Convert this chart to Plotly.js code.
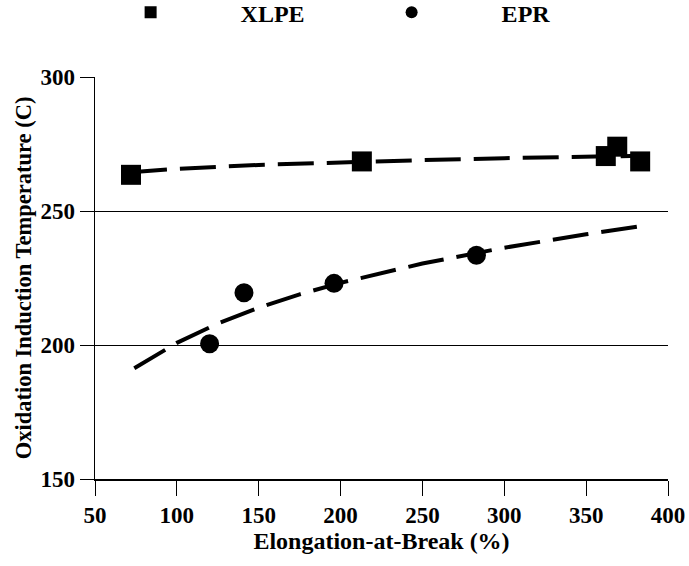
<!DOCTYPE html>
<html>
<head>
<meta charset="utf-8">
<script src="https://cdn.plot.ly/plotly-3.0.1.min.js"></script>
<style>html,body{margin:0;padding:0;background:#fff;}#chart{width:689px;height:566px;}</style>
</head>
<body>
<div id="chart"></div>
<script>
// XLPE measurements
const xlpeX = [72, 213, 362, 369, 383];
const xlpeY = [263.5, 268.5, 270.5, 274, 268.5];
// EPR measurements
const eprX = [120, 141, 196, 283];
const eprY = [200.5, 219.5, 223, 233.5];
// Trend lines
const xlpeTrendX = [72, 100, 150, 200, 250, 300, 350, 383];
const xlpeTrendY = [264.5, 265.7, 267.2, 268.2, 269.0, 269.7, 270.3, 270.6];
const eprTrendX = [74, 100, 125, 150, 175, 200, 250, 300, 350, 383];
const eprTrendY = [191.3, 200.8, 208.0, 213.9, 218.9, 223.2, 230.4, 236.3, 241.3, 244.3];

const xTicks = [50, 100, 150, 200, 250, 300, 350, 400];
const yTicks = [150, 200, 250, 300];

const serif = 'Liberation Serif, Times New Roman, serif';
const dashStyle = '36px,13px';
const b = s => '<b>' + s + '</b>';

const traces = [
  {x: xlpeTrendX, y: xlpeTrendY, mode: 'lines', showlegend: false, hoverinfo: 'skip',
   line: {color: '#000', width: 4, dash: dashStyle}},
  {x: eprTrendX, y: eprTrendY, mode: 'lines', showlegend: false, hoverinfo: 'skip',
   line: {color: '#000', width: 4, dash: dashStyle}},
  {x: xlpeX, y: xlpeY, mode: 'markers', showlegend: false,
   marker: {symbol: 'square', size: 20, color: '#000'}},
  {x: eprX, y: eprY, mode: 'markers', showlegend: false,
   marker: {symbol: 'circle', size: 19, color: '#000'}},
  {x: [null], y: [null], mode: 'markers', name: b('XLPE'),
   marker: {symbol: 'square', size: 12, color: '#000'}},
  {x: [null], y: [null], mode: 'markers', name: b('EPR'),
   marker: {symbol: 'circle', size: 12, color: '#000'}}
];

const layout = {
  width: 689, height: 566,
  margin: {l: 95, r: 21, t: 77, b: 87, autoexpand: false},
  paper_bgcolor: '#fff', plot_bgcolor: '#fff',
  font: {family: serif, color: '#000', size: 23},
  showlegend: true,
  legend: {orientation: 'h', x: -0.06, xanchor: 'left', y: 1.16, yanchor: 'middle',
           itemwidth: 170, entrywidth: 76, entrywidthmode: 'pixels',
           font: {family: serif, size: 24, color: '#000'},
           bgcolor: 'rgba(0,0,0,0)'},
  xaxis: {range: [50, 400], tickvals: xTicks, ticktext: xTicks.map(v => b(v)),
          showgrid: false, zeroline: false, showline: true, linecolor: '#000', linewidth: 1.5,
          ticks: 'outside', ticklen: 15, tickwidth: 1, tickcolor: '#000',
          tickfont: {family: serif, size: 23},
          title: {text: b('Elongation-at-Break (%)'), font: {family: serif, size: 24}, standoff: 4}},
  yaxis: {range: [150, 300], tickvals: yTicks, ticktext: yTicks.map(v => b(v)),
          showgrid: true, gridcolor: '#000', gridwidth: 1, zeroline: false,
          showline: true, linecolor: '#000', linewidth: 1.5,
          ticks: 'outside', ticklen: 14, tickwidth: 1, tickcolor: '#000',
          tickfont: {family: serif, size: 23},
          title: {text: b('Oxidation Induction Temperature (C)'), font: {family: serif, size: 22.5}, standoff: 2}}
};

Plotly.newPlot('chart', traces, layout, {displayModeBar: false, staticPlot: true});
</script>
</body>
</html>
